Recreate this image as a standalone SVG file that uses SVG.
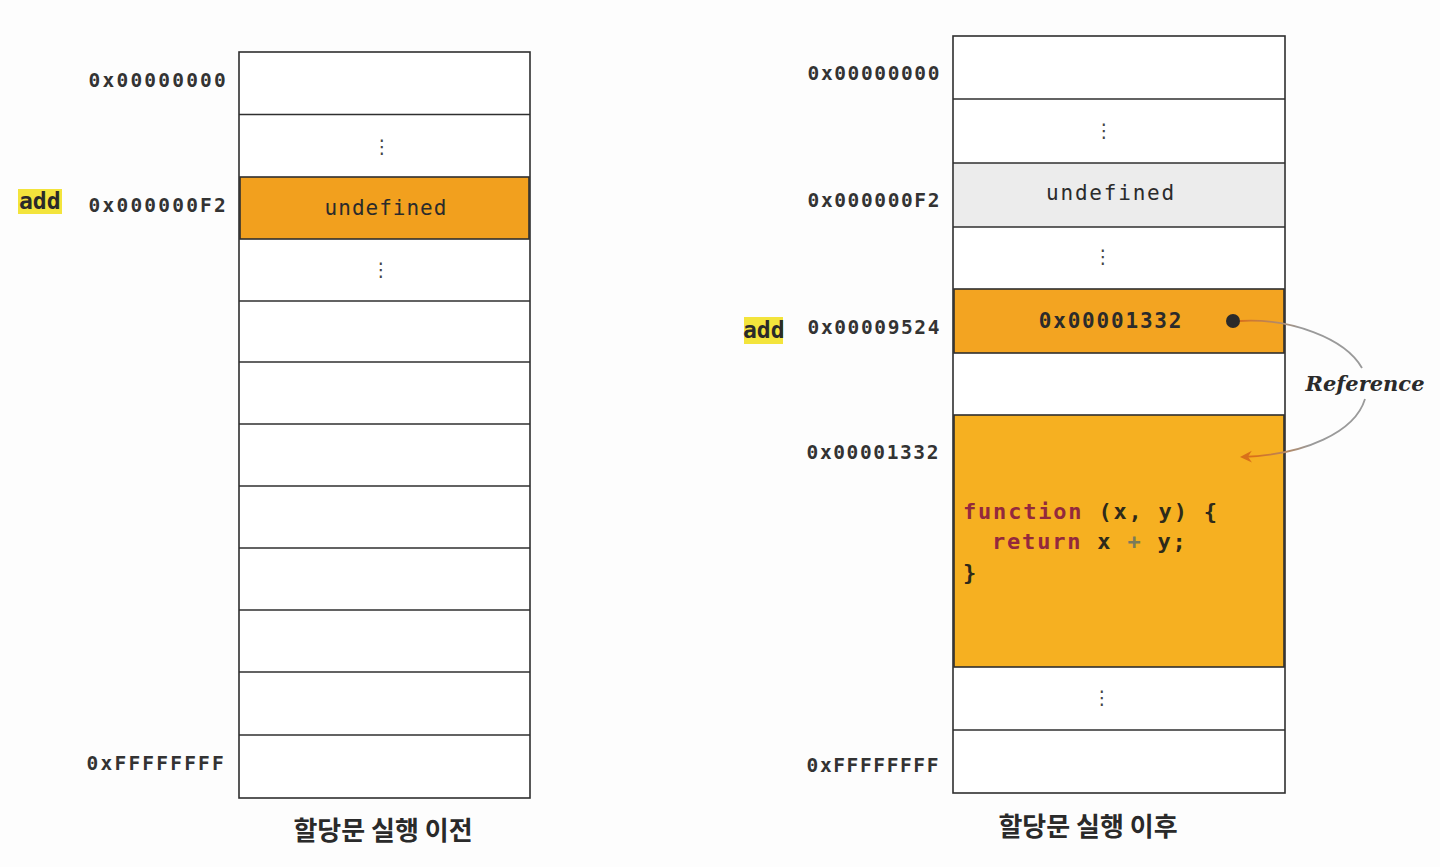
<svg xmlns="http://www.w3.org/2000/svg" width="1440" height="867" viewBox="0 0 1440 867">
<defs>
<style>
.cell{fill:#ffffff;stroke:#2f2f2f;stroke-width:1.6}
.row{stroke:#2f2f2f;stroke-width:1.6}
.addr{font-family:"DejaVu Sans Mono","Liberation Mono",monospace;font-weight:bold;font-size:19.5px;letter-spacing:2.2px;fill:#333333;text-anchor:end}
.addrR{font-family:"DejaVu Sans Mono","Liberation Mono",monospace;font-weight:bold;font-size:19.5px;letter-spacing:1.6px;fill:#333333;text-anchor:end}
.val{font-family:"DejaVu Sans Mono","Liberation Mono",monospace;font-size:21px;letter-spacing:1.8px;fill:#2b2b2b;text-anchor:middle}
.valL{font-family:"DejaVu Sans Mono","Liberation Mono",monospace;font-size:21px;letter-spacing:1px;fill:#2b2b2b;text-anchor:middle}
.dots{font-family:"DejaVu Sans",sans-serif;font-size:19px;fill:#444444;text-anchor:middle}
.code{font-family:"DejaVu Sans Mono","Liberation Mono",monospace;font-weight:bold;font-size:22px;letter-spacing:1.8px;fill:#2e2a1a}
.kw{fill:#93293d}
.cap{font-family:"Noto Sans CJK KR","Noto Sans",sans-serif;font-weight:bold;font-size:26px;fill:#2a2a2a;text-anchor:middle}
.var{font-family:"DejaVu Sans Mono","Liberation Mono",monospace;font-weight:bold;font-size:23px;fill:#2a2a2a}
.hl{fill:#f3e43c}
</style>
<marker id="ah" markerWidth="14" markerHeight="14" refX="10" refY="7" orient="auto" markerUnits="userSpaceOnUse">
<path d="M0,1 L12,7 L0,13 L4,7 Z" fill="#d9701a"/>
</marker>
<linearGradient id="g1" gradientUnits="userSpaceOnUse" x1="1240" y1="0" x2="1300" y2="0">
<stop offset="0" stop-color="#d9701a"/><stop offset="1" stop-color="#9a9a9a"/>
</linearGradient>
<linearGradient id="g2" gradientUnits="userSpaceOnUse" x1="1310" y1="0" x2="1255" y2="0">
<stop offset="0" stop-color="#9a9a9a"/><stop offset="1" stop-color="#d9701a"/>
</linearGradient>
</defs>
<rect width="1440" height="867" fill="#fdfdfd"/>

<g id="before">
<rect class="cell" x="239" y="52" width="291" height="746"/>
<rect x="240" y="177" width="289" height="62" fill="#f2a01e" stroke="#2f2f2f" stroke-width="1.6"/>
<line class="row" x1="239" y1="114.5" x2="530" y2="114.5"/>
<line class="row" x1="239" y1="301" x2="530" y2="301"/>
<line class="row" x1="239" y1="362" x2="530" y2="362"/>
<line class="row" x1="239" y1="424" x2="530" y2="424"/>
<line class="row" x1="239" y1="486" x2="530" y2="486"/>
<line class="row" x1="239" y1="548" x2="530" y2="548"/>
<line class="row" x1="239" y1="610" x2="530" y2="610"/>
<line class="row" x1="239" y1="672" x2="530" y2="672"/>
<line class="row" x1="239" y1="735" x2="530" y2="735"/>
<text class="dots" x="382" y="153">⋮</text>
<text class="valL" x="386" y="215">undefined</text>
<text class="dots" x="381" y="276">⋮</text>
<text class="addr" x="228" y="87">0x00000000</text>
<text class="addr" x="228" y="212">0x000000F2</text>
<text class="addr" x="226" y="770">0xFFFFFFFF</text>
<rect class="hl" x="18" y="189" width="44" height="25"/>
<text class="var" x="19" y="209">add</text>
<text class="cap" x="383" y="840">할당문 실행 이전</text>
</g>

<g id="after">
<rect class="cell" x="953" y="36" width="332" height="757"/>
<rect x="954" y="163" width="330" height="64" fill="#ececec"/>
<rect x="954" y="289" width="330" height="64" fill="#f3a421" stroke="#2f2f2f" stroke-width="1.6"/>
<rect x="954" y="415" width="330" height="252" fill="#f6b021" stroke="#2f2f2f" stroke-width="1.6"/>
<line class="row" x1="953" y1="99" x2="1285" y2="99"/>
<line class="row" x1="953" y1="163" x2="1285" y2="163"/>
<line class="row" x1="953" y1="227" x2="1285" y2="227"/>
<line class="row" x1="953" y1="730" x2="1285" y2="730"/>
<text class="dots" x="1104" y="137">⋮</text>
<text class="val" x="1111" y="200">undefined</text>
<text class="dots" x="1103" y="263">⋮</text>
<text class="val" x="1111" y="328" font-weight="bold">0x00001332</text>
<text class="dots" x="1102" y="704">⋮</text>
<text class="code" x="963" y="519"><tspan class="kw">function</tspan> (x, y) {</text>
<text class="code" x="992" y="549"><tspan class="kw">return</tspan> x <tspan fill="#7a7a5a">+</tspan> y;</text>
<text class="code" x="963" y="580">}</text>
<text class="addrR" x="941" y="80">0x00000000</text>
<text class="addrR" x="941" y="207">0x000000F2</text>
<text class="addrR" x="941" y="334">0x00009524</text>
<text class="addrR" x="940" y="459">0x00001332</text>
<text class="addrR" x="940" y="772">0xFFFFFFFF</text>
<rect class="hl" x="744" y="317" width="39" height="27"/>
<text class="var" x="743" y="338">add</text>
<text class="cap" x="1088" y="836">할당문 실행 이후</text>
</g>

<g id="connectors">
<circle cx="1233" cy="321" r="7" fill="#2a2a2a"/>
<path d="M1240,321 C1290,318 1345,338 1362,368" fill="none" stroke="url(#g1)" stroke-width="1.8"/>
<path d="M1365,399 C1355,432 1305,455 1242,457" fill="none" stroke="url(#g2)" stroke-width="1.8" marker-end="url(#ah)"/>
<text x="1365" y="391" text-anchor="middle" font-family="DejaVu Serif, Liberation Serif, serif" font-weight="bold" font-style="italic" font-size="21" fill="#2a2a2a">Reference</text>
</g>
</svg>
